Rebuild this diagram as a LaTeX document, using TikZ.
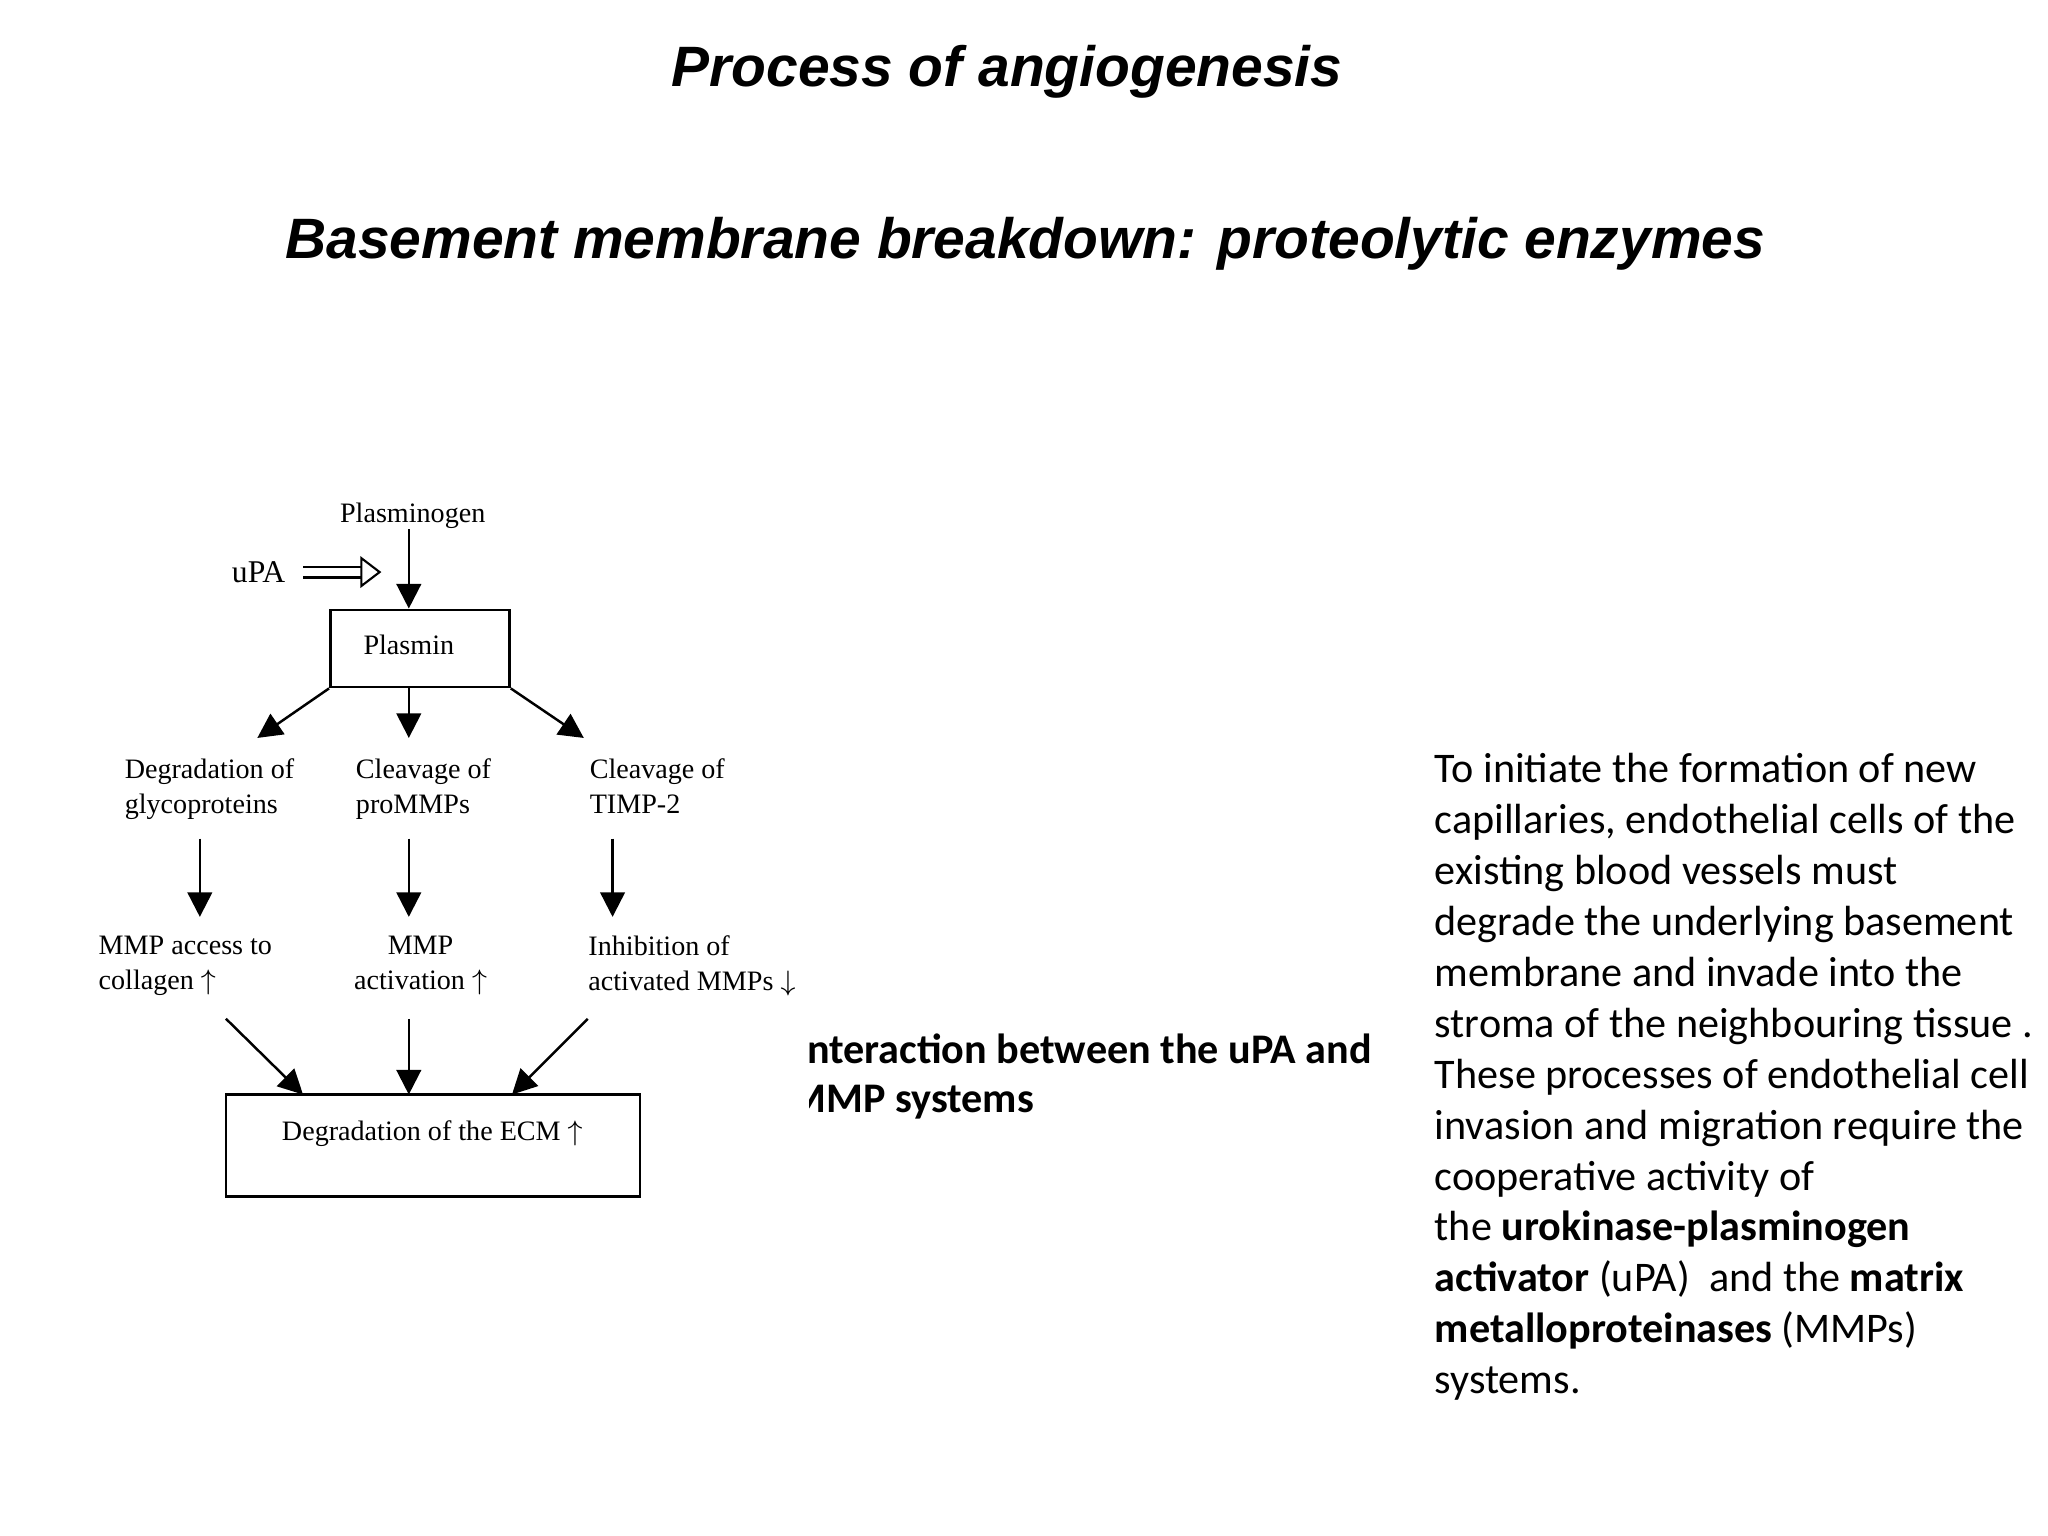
\documentclass[tikz,border=0pt]{standalone}
\usepackage{fontspec}
\setmainfont{Liberation Serif}
\newfontfamily\arialf{Liberation Sans}
\newfontfamily\calf{Carlito}
\usetikzlibrary{arrows.meta}
\begin{document}
\begin{tikzpicture}[x=0.01306cm,y=-0.01306cm,
  lbl/.style={font=\fontsize{8}{10}\selectfont, inner sep=0pt, align=left},
  box/.style={draw, line width=0.8pt},
  arr/.style={line width=0.7pt, -{Triangle[length=7pt,width=7pt]}},
  ttl/.style={font=\arialf\bfseries\itshape\fontsize{16.2}{18}\selectfont},
  body/.style={font=\calf\fontsize{12}{14.5}\selectfont, inner sep=0pt, align=left, anchor=north west}]
\useasboundingbox (0,0) rectangle (1568,1176);
\node[ttl] (t1) at (771,55) {Process of angiogenesis};
\node[ttl] (t2) at (785,187) {Basement membrane breakdown: proteolytic enzymes};

\node[lbl] (plg) at (316,395) {Plasminogen};
\node[lbl, font=\fontsize{9}{10}\selectfont] (upa) at (198,438) {uPA};
\coordinate (ua) at (232,438);
\coordinate (ub) at (292,438);
\draw[line width=0.6pt, double distance=2.5pt, -{Triangle[open,length=6pt,width=9pt]}] (ua) -- (ub);
\node[box, minimum width=137*0.01306cm, minimum height=59*0.01306cm, inner sep=0pt] (plm) at (321.5,496.5) {};
\node[lbl] at (313,494) {Plasmin};
\draw[arr] (plg.south -| 313,0) -- (plm.north -| 313,0);

\node[lbl, anchor=north west] (d1) at (95,580) {Degradation of\\glycoproteins};
\node[lbl, anchor=north west] (d2) at (272,580) {Cleavage of\\proMMPs};
\node[lbl, anchor=north west] (d3) at (451,580) {Cleavage of\\TIMP-2};
\coordinate (e1) at (197,565);
\coordinate (e2) at (313,565);
\coordinate (e3) at (447,565);
\draw[arr] (plm.south west) -- (e1);
\draw[arr] (plm.south -| 313,0) -- (e2);
\draw[arr] (plm.south east) -- (e3);

\coordinate (f1a) at (153,642); \coordinate (f1b) at (153,702);
\coordinate (f2a) at (313,642); \coordinate (f2b) at (313,702);
\coordinate (f3a) at (469,642); \coordinate (f3b) at (469,702);
\draw[arr] (f1a) -- (f1b);
\draw[arr] (f2a) -- (f2b);
\draw[arr] (f3a) -- (f3b);

\node[lbl, anchor=north west] (m1) at (75,716) {MMP access to\\collagen $\uparrow$};
\node[lbl, anchor=north, align=center] (m2) at (322,716) {MMP\\activation $\uparrow$};
\node[lbl, anchor=north west] (m3) at (450,716) {Inhibition of\\activated MMPs $\downarrow$};

\node[box, minimum width=317*0.01306cm, minimum height=78*0.01306cm, inner sep=0pt] (ecm) at (331.5,877) {};
\node[lbl] at (331,868) {Degradation of the ECM $\uparrow$};
\coordinate (g1) at (173,780); \coordinate (h1) at (232,838);
\coordinate (g2) at (313,780); \coordinate (h2) at (313,838);
\coordinate (g3) at (450,780); \coordinate (h3) at (392,838);
\draw[arr] (g1) -- (h1);
\draw[arr] (g2) -- (h2);
\draw[arr] (g3) -- (h3);

\begin{scope}
\clip (620,760) rectangle (1090,880);
\node[body, font=\calf\bfseries\fontsize{12}{14.5}\selectfont, anchor=north east] (cap) at (1051,791) {Interaction between the uPA and\\\phantom{I}};
\node[body, font=\calf\bfseries\fontsize{12}{14.5}\selectfont, anchor=north west] (cap2) at (604,830) {MMP systems};
\end{scope}

\node[body] (par) at (1098,576) {To initiate the formation of new\\
capillaries, endothelial cells of the\\
existing blood vessels must\\
degrade the underlying basement\\
membrane and invade into the\\
stroma of the neighbouring tissue .\\
These processes of endothelial cell\\
invasion and migration require the\\
cooperative activity of\\
the \textbf{urokinase-plasminogen}\\
\textbf{activator} (uPA)\ \ and the \textbf{matrix}\\
\textbf{metalloproteinases} (MMPs)\\
systems.};
\end{tikzpicture}
\end{document}
